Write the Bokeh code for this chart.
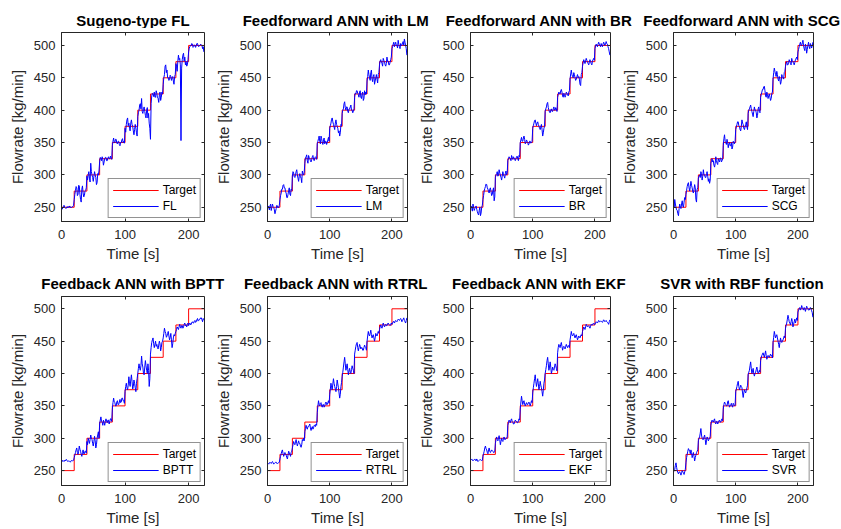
from bokeh.plotting import figure
from bokeh.layouts import column, row
from bokeh.models import Range1d, LinearAxis, FixedTicker, Legend, LegendItem, Label
from bokeh.embed import file_html
from bokeh.resources import INLINE

# ---------------- data ----------------
time_s = list(range(0, 225))
step_t = [0, 20, 40, 60, 80, 100, 120, 140, 160, 180, 200, 225]
target = [250, 275, 300, 325, 350, 375, 400, 425, 450, 475, 500, 500]

x_ticks = [0, 100, 200]
y_ticks = [250, 300, 350, 400, 450, 500]

titles = ["Sugeno-type FL", "Feedforward ANN with LM", "Feedforward ANN with BR",
          "Feedforward ANN with SCG", "Feedback ANN with BPTT", "Feedback ANN with RTRL",
          "Feedback ANN with EKF", "SVR with RBF function"]
names = ["FL", "LM", "BR", "SCG", "BPTT", "RTRL", "EKF", "SVR"]

fl = [248, 247, 249, 251, 253, 250, 249, 248, 250, 251,
      249, 251, 250, 252, 250, 249, 250, 251, 251, 253,
      262, 270, 276, 282, 280, 268, 270, 284, 283, 270,
      262, 258, 278, 283, 272, 266, 268, 275, 276, 280,
      298, 292, 300, 305, 295, 289, 318, 305, 300, 296,
      290, 298, 305, 300, 296, 285, 288, 302, 300, 306,
      320, 327, 326, 322, 328, 324, 315, 320, 325, 327,
      327, 322, 322, 326, 328, 325, 325, 329, 326, 324,
      345, 352, 357, 350, 350, 355, 355, 349, 348, 352,
      352, 347, 345, 350, 350, 354, 356, 350, 352, 349,
      372, 366, 378, 385, 388, 376, 380, 372, 368, 380,
      385, 378, 375, 368, 362, 370, 378, 372, 365, 360,
      390, 396, 400, 408, 410, 402, 418, 398, 395, 401,
      405, 398, 392, 388, 400, 404, 388, 395, 380, 372,
      355, 410, 422, 426, 425, 421, 428, 420, 420, 430,
      426, 419, 418, 412, 424, 428, 415, 420, 428, 425,
      440, 450, 455, 468, 470, 458, 462, 450, 450, 446,
      448, 454, 452, 446, 450, 452, 445, 440, 452, 455,
      472, 468, 460, 475, 485, 478, 480, 470, 353, 465,
      478, 485, 488, 476, 482, 470, 475, 468, 470, 478,
      490, 496, 498, 500, 500, 503, 502, 497, 498, 501,
      500, 497, 500, 503, 503, 499, 498, 500, 500, 502,
      501, 500, 495, 498, 490]

lm = [248, 252, 250, 246, 252, 255, 245, 250, 255, 251,
      250, 246, 240, 244, 248, 253, 252, 249, 250, 253,
      262, 268, 272, 278, 278, 284, 285, 280, 280, 274,
      272, 265, 265, 270, 276, 280, 270, 268, 278, 276,
      298, 305, 303, 297, 296, 300, 305, 308, 300, 295,
      290, 298, 302, 297, 295, 288, 306, 302, 300, 304,
      318, 326, 328, 331, 322, 318, 330, 327, 325, 322,
      320, 324, 328, 330, 324, 322, 326, 328, 327, 324,
      348, 352, 356, 360, 352, 348, 360, 356, 350, 347,
      354, 357, 348, 352, 352, 347, 350, 354, 358, 352,
      372, 376, 380, 386, 388, 382, 378, 374, 370, 380,
      385, 378, 375, 372, 365, 368, 360, 365, 378, 376,
      395, 400, 402, 410, 413, 404, 400, 405, 405, 398,
      396, 402, 402, 405, 408, 400, 400, 396, 398, 402,
      420, 426, 425, 430, 430, 426, 424, 420, 428, 430,
      420, 418, 425, 428, 415, 418, 430, 424, 428, 425,
      445, 452, 462, 455, 450, 446, 458, 462, 448, 444,
      452, 455, 440, 445, 450, 455, 448, 442, 455, 458,
      470, 476, 478, 474, 472, 468, 480, 477, 475, 470,
      468, 472, 482, 476, 476, 470, 470, 474, 478, 482,
      495, 498, 502, 505, 498, 502, 505, 500, 500, 496,
      508, 502, 498, 495, 503, 500, 500, 504, 506, 500,
      510, 505, 500, 495, 485]

br = [250, 252, 248, 244, 255, 250, 245, 248, 250, 252,
      247, 243, 240, 238, 245, 250, 237, 241, 250, 253,
      262, 268, 275, 279, 282, 286, 285, 280, 278, 274,
      272, 278, 280, 274, 268, 270, 276, 280, 260, 266,
      296, 300, 302, 305, 298, 300, 308, 303, 300, 296,
      292, 298, 305, 300, 298, 295, 302, 306, 300, 303,
      322, 325, 328, 326, 325, 322, 330, 327, 324, 328,
      326, 324, 322, 325, 328, 329, 325, 322, 330, 328,
      350, 354, 358, 352, 352, 357, 360, 355, 348, 350,
      354, 352, 350, 346, 348, 352, 352, 349, 350, 352,
      372, 376, 380, 384, 385, 380, 376, 380, 382, 378,
      375, 372, 370, 374, 378, 370, 360, 365, 372, 375,
      398, 402, 405, 410, 412, 404, 400, 397, 396, 400,
      402, 398, 398, 402, 405, 400, 400, 404, 402, 398,
      420, 424, 428, 426, 425, 430, 432, 428, 422, 420,
      426, 424, 420, 423, 428, 426, 425, 422, 428, 430,
      448, 456, 462, 455, 452, 450, 458, 455, 450, 446,
      448, 452, 455, 450, 452, 448, 440, 438, 455, 458,
      468, 473, 478, 475, 472, 476, 480, 477, 475, 472,
      470, 474, 478, 475, 472, 470, 476, 478, 480, 477,
      495, 499, 502, 500, 498, 502, 505, 502, 500, 498,
      503, 500, 498, 502, 505, 503, 500, 502, 506, 503,
      502, 498, 495, 490, 485]

scg = [258, 250, 262, 255, 250, 246, 245, 240, 237, 248,
       255, 250, 248, 255, 260, 252, 250, 258, 265, 262,
       270, 276, 282, 286, 288, 280, 275, 282, 290, 284,
       280, 274, 272, 278, 285, 280, 262, 258, 278, 280,
       295, 298, 300, 296, 305, 302, 292, 298, 308, 300,
       300, 296, 296, 302, 305, 298, 290, 294, 287, 292,
       318, 322, 325, 320, 322, 315, 312, 318, 328, 322,
       318, 316, 325, 322, 320, 326, 326, 320, 322, 325,
       345, 356, 362, 352, 350, 347, 355, 350, 342, 348,
       350, 345, 345, 350, 340, 343, 352, 350, 348, 352,
       370, 374, 378, 382, 382, 376, 375, 370, 368, 375,
       385, 380, 378, 372, 370, 374, 378, 382, 374, 370,
       395, 400, 402, 405, 408, 402, 398, 394, 390, 398,
       405, 400, 400, 396, 388, 392, 402, 405, 398, 396,
       420, 424, 428, 432, 432, 436, 437, 430, 422, 420,
       428, 424, 418, 422, 425, 420, 415, 418, 426, 428,
       448, 458, 465, 460, 455, 452, 460, 455, 448, 445,
       452, 448, 440, 444, 455, 452, 450, 448, 458, 460,
       468, 472, 475, 470, 470, 474, 478, 475, 472, 470,
       480, 476, 475, 472, 470, 474, 478, 480, 482, 478,
       490, 494, 498, 502, 505, 500, 500, 504, 508, 500,
       495, 492, 502, 498, 488, 494, 500, 505, 498, 495,
       503, 500, 496, 500, 505]

bptt = [265, 264, 266, 265, 264, 266, 265, 267, 267, 265,
        264, 265, 265, 264, 263, 265, 266, 265, 265, 266,
        270, 274, 278, 282, 285, 278, 275, 280, 288, 283,
        280, 275, 272, 278, 282, 276, 276, 280, 280, 277,
        295, 290, 300, 296, 292, 298, 305, 300, 298, 292,
        288, 295, 303, 296, 285, 290, 300, 305, 310, 300,
        322, 328, 333, 326, 325, 320, 328, 324, 320, 326,
        330, 326, 324, 328, 328, 322, 326, 330, 330, 326,
        345, 355, 362, 356, 355, 350, 350, 356, 358, 352,
        352, 356, 360, 355, 356, 362, 362, 358, 358, 354,
        372, 380, 385, 378, 375, 382, 395, 385, 380, 390,
        398, 388, 376, 380, 390, 385, 378, 372, 385, 392,
        400, 408, 415, 408, 405, 412, 427, 415, 410, 400,
        398, 410, 420, 412, 405, 400, 415, 405, 380, 392,
        430, 440, 448, 452, 455, 446, 440, 445, 450, 442,
        445, 440, 438, 444, 450, 446, 435, 440, 448, 450,
        455, 462, 470, 465, 462, 456, 458, 462, 465, 458,
        452, 456, 462, 452, 440, 446, 455, 460, 458, 462,
        465, 468, 472, 470, 468, 472, 476, 472, 470, 474,
        474, 470, 472, 476, 478, 474, 475, 472, 476, 478,
        474, 476, 478, 475, 476, 479, 480, 478, 478, 481,
        482, 479, 480, 483, 485, 481, 482, 484, 484, 486,
        486, 483, 480, 485, 483]

rtrl = [262, 261, 260, 262, 263, 262, 261, 263, 264, 262,
        260, 261, 262, 263, 263, 261, 261, 262, 262, 263,
        268, 272, 276, 280, 282, 276, 272, 275, 278, 276,
        274, 270, 268, 274, 280, 278, 275, 272, 278, 280,
        285, 290, 295, 292, 290, 294, 298, 292, 288, 292,
        296, 292, 292, 288, 286, 290, 298, 296, 300, 296,
        310, 315, 320, 316, 314, 318, 318, 320, 322, 316,
        312, 316, 318, 314, 316, 320, 320, 318, 322, 320,
        340, 350, 358, 352, 350, 354, 355, 350, 348, 352,
        352, 348, 350, 354, 356, 352, 352, 355, 358, 354,
        368, 376, 385, 378, 375, 384, 392, 385, 380, 376,
        372, 380, 390, 384, 378, 370, 362, 368, 380, 386,
        395, 402, 410, 418, 425, 415, 405, 410, 415, 406,
        398, 404, 408, 402, 400, 406, 412, 408, 405, 400,
        430, 436, 442, 446, 448, 440, 435, 440, 445, 442,
        438, 440, 440, 436, 436, 440, 444, 441, 440, 436,
        450, 458, 465, 460, 458, 462, 467, 460, 455, 458,
        460, 455, 450, 455, 462, 460, 458, 462, 465, 462,
        468, 472, 475, 472, 470, 474, 478, 475, 472, 474,
        476, 474, 474, 477, 478, 476, 475, 474, 476, 478,
        476, 478, 480, 481, 478, 480, 482, 481, 480, 482,
        484, 483, 482, 484, 485, 483, 480, 482, 484, 486,
        482, 480, 478, 482, 486]

ekf = [266, 267, 268, 266, 265, 266, 267, 268, 266, 265,
       268, 266, 264, 265, 266, 267, 267, 266, 265, 266,
       272, 276, 280, 285, 288, 284, 282, 278, 276, 282,
       285, 280, 278, 280, 282, 281, 280, 278, 278, 280,
       292, 298, 302, 298, 296, 300, 304, 298, 290, 295,
       300, 296, 295, 300, 302, 298, 298, 300, 300, 302,
       320, 324, 328, 326, 324, 328, 330, 326, 325, 322,
       322, 326, 328, 326, 326, 324, 324, 327, 330, 328,
       345, 356, 365, 358, 352, 356, 358, 352, 350, 353,
       355, 352, 352, 355, 356, 352, 350, 354, 358, 355,
       370, 378, 385, 392, 398, 388, 380, 386, 392, 384,
       375, 380, 388, 382, 378, 372, 365, 374, 385, 390,
       400, 406, 412, 420, 425, 415, 405, 410, 418, 410,
       400, 404, 410, 406, 405, 410, 415, 412, 408, 404,
       432, 440, 445, 442, 440, 445, 448, 442, 436, 440,
       442, 440, 438, 442, 445, 442, 440, 443, 443, 440,
       452, 458, 465, 460, 458, 460, 462, 458, 455, 458,
       460, 456, 452, 455, 458, 456, 455, 458, 460, 458,
       465, 468, 472, 470, 468, 472, 476, 474, 472, 473,
       474, 472, 470, 473, 476, 475, 475, 477, 478, 476,
       476, 478, 480, 479, 478, 480, 482, 480, 480, 481,
       481, 480, 479, 481, 483, 482, 480, 481, 482, 480,
       479, 478, 476, 480, 483]

svr = [248, 250, 252, 258, 262, 255, 250, 247, 245, 248,
       248, 246, 243, 247, 250, 248, 246, 244, 248, 252,
       262, 270, 275, 280, 284, 282, 280, 276, 282, 278,
       270, 274, 278, 272, 265, 270, 274, 278, 280, 282,
       296, 300, 302, 308, 315, 305, 300, 298, 298, 302,
       305, 298, 290, 296, 302, 300, 296, 298, 300, 303,
       320, 325, 328, 326, 325, 328, 330, 324, 322, 326,
       326, 322, 324, 327, 328, 325, 325, 328, 330, 327,
       345, 352, 356, 354, 352, 350, 350, 356, 358, 352,
       348, 350, 352, 354, 350, 348, 354, 352, 350, 351,
       372, 376, 380, 385, 388, 380, 375, 378, 382, 380,
       378, 370, 363, 370, 375, 372, 370, 374, 378, 382,
       398, 402, 405, 412, 418, 408, 400, 404, 408, 400,
       396, 400, 402, 406, 410, 404, 400, 402, 405, 402,
       420, 424, 428, 430, 432, 428, 425, 430, 435, 428,
       422, 425, 428, 426, 425, 428, 430, 427, 428, 424,
       448, 456, 465, 460, 455, 458, 460, 455, 450, 445,
       440, 448, 455, 450, 448, 450, 452, 455, 458, 455,
       470, 474, 478, 484, 490, 485, 480, 478, 475, 480,
       485, 480, 472, 476, 480, 484, 478, 482, 486, 482,
       495, 498, 500, 502, 498, 500, 505, 502, 500, 498,
       502, 500, 496, 500, 504, 502, 500, 498, 498, 500,
       502, 500, 497, 494, 487]

series = [fl, lm, br, scg, bptt, rtrl, ekf, svr]
y_limits = [(228, 520)] * 4 + [(227, 519)] * 4

# ---------------- style ----------------
FONT = "Liberation Sans"
AX = "#262626"
COL_W = 203
FIG_H = 237
PAGE_W = 841


def style_axis(ax, ticks, label):
    ax.ticker = FixedTicker(ticks=ticks)
    ax.axis_label = label
    ax.axis_label_text_font = FONT
    ax.axis_label_text_font_size = "15px"
    ax.axis_label_text_font_style = "normal"
    ax.axis_label_text_color = AX
    ax.major_label_text_font = FONT
    ax.major_label_text_font_size = "13px"
    ax.major_label_text_color = AX
    ax.axis_line_color = AX
    ax.major_tick_line_color = AX
    ax.major_tick_in = 3
    ax.major_tick_out = 0
    ax.minor_tick_line_color = None


def mirror_axis(ticks):
    return LinearAxis(ticker=FixedTicker(ticks=ticks), major_label_text_font_size="0px",
                      major_label_standoff=0, major_tick_in=3, major_tick_out=0,
                      major_tick_line_color=AX, minor_tick_line_color=None,
                      axis_line_color=None)


def make_panel(name, values, lim, first_col):
    left = 61 if first_col else 53
    p = figure(width=COL_W + (left - 53), height=FIG_H, x_range=Range1d(0, 225),
               y_range=Range1d(*lim), output_backend="svg", toolbar_location=None,
               min_border_left=left, min_border_right=7, min_border_top=4,
               min_border_bottom=44)
    p.grid.visible = False
    p.outline_line_color = AX
    p.outline_line_width = 1
    p.background_fill_color = "white"
    p.border_fill_color = "white"
    r_t = p.step(step_t, target, mode="after", line_color="#ff0000", line_width=1)
    r_p = p.line(time_s, values, line_color="#0000ff", line_width=1)
    style_axis(p.xaxis[0], x_ticks, "Time [s]")
    p.xaxis[0].major_label_standoff = 8
    p.xaxis[0].axis_label_standoff = 3
    style_axis(p.yaxis[0], y_ticks, "Flowrate [kg/min]")
    p.yaxis[0].major_label_standoff = 6
    p.yaxis[0].axis_label_standoff = 5
    p.add_layout(mirror_axis(x_ticks), "above")
    p.add_layout(mirror_axis(y_ticks), "right")
    leg = Legend(items=[LegendItem(label="Target", renderers=[r_t]),
                        LegendItem(label=name, renderers=[r_p])],
                 location="bottom_right", margin=3, padding=4, spacing=2,
                 glyph_width=46, glyph_height=14, label_height=14, label_standoff=4,
                 label_text_font=FONT, label_text_font_size="12px", label_text_color="black",
                 border_line_color=AX, border_line_width=1,
                 background_fill_color="white", background_fill_alpha=1.0)
    p.add_layout(leg)
    return p


def make_strip(labels, height, ycenter):
    s = figure(width=PAGE_W, height=height, x_range=Range1d(0, PAGE_W),
               y_range=Range1d(0, height), output_backend="svg", toolbar_location=None,
               min_border=0, x_axis_type=None, y_axis_type=None)
    s.outline_line_color = None
    s.grid.visible = False
    for i, text in enumerate(labels):
        s.add_layout(Label(x=132.5 + COL_W * i, y=ycenter, text=text,
                           text_align="center", text_baseline="middle",
                           text_font=FONT, text_font_size="15px",
                           text_font_style="bold", text_color="black"))
    return s


panels = [make_panel(n, v, lim, i % 4 == 0)
          for i, (n, v, lim) in enumerate(zip(names, series, y_limits))]
strip_top = make_strip(titles[:4], 28, 8)
strip_bot = make_strip(titles[4:], 27, 8.7)

p = column(strip_top, row(*panels[:4]), strip_bot, row(*panels[4:]))

open("out.html", "w").write(file_html(p, INLINE))
